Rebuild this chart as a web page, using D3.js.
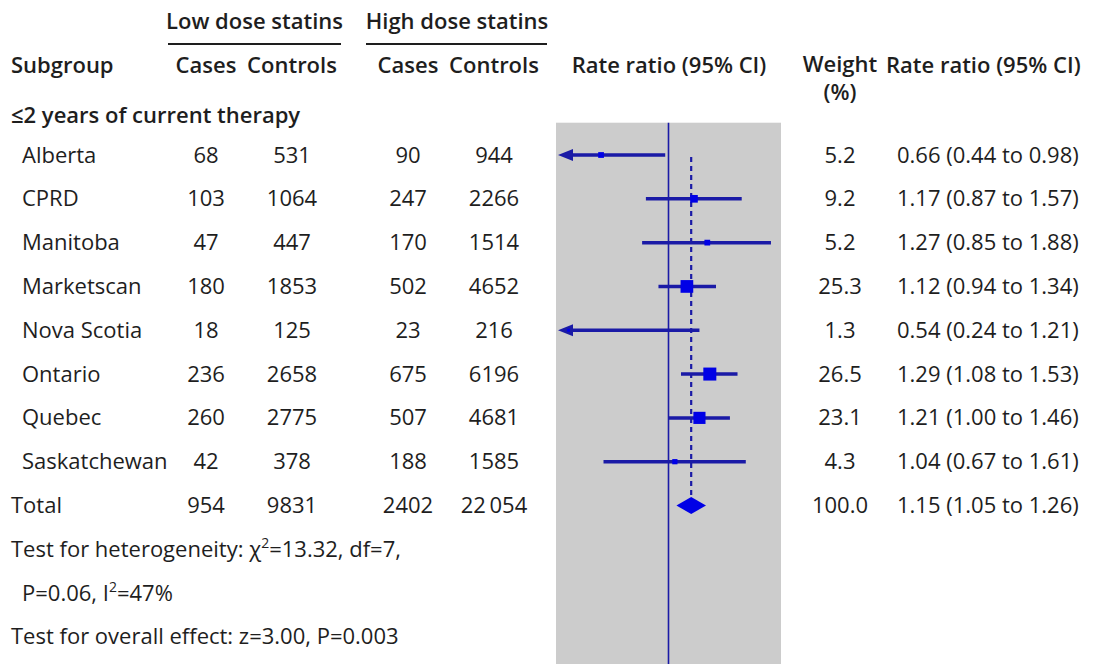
<!DOCTYPE html>
<html>
<head>
<meta charset="utf-8">
<script src="https://cdn.jsdelivr.net/npm/d3@7"></script>
<style>
  html, body { margin: 0; padding: 0; background: #fff; }
  svg { display: block; font-family: "Open Sans", "Noto Sans", sans-serif; }
  .hdr { font-weight: 600; }
</style>
</head>
<body>
<svg id="chart" width="1097" height="664"></svg>
<script>
// ---- data ----
const subgroups    = ["Alberta", "CPRD", "Manitoba", "Marketscan", "Nova Scotia", "Ontario", "Quebec", "Saskatchewan"];
const lowCases     = [68, 103, 47, 180, 18, 236, 260, 42];
const lowControls  = [531, 1064, 447, 1853, 125, 2658, 2775, 378];
const highCases    = [90, 247, 170, 502, 23, 675, 507, 188];
const highControls = [944, 2266, 1514, 4652, 216, 6196, 4681, 1585];
const weights      = [5.2, 9.2, 5.2, 25.3, 1.3, 26.5, 23.1, 4.3];
const rateRatio    = [0.66, 1.17, 1.27, 1.12, 0.54, 1.29, 1.21, 1.04];
const ciLower      = [0.44, 0.87, 0.85, 0.94, 0.24, 1.08, 1.00, 0.67];
const ciUpper      = [0.98, 1.57, 1.88, 1.34, 1.21, 1.53, 1.46, 1.61];
const totalLabel   = "Total";
const totalCounts  = [954, 9831, 2402, 22054];
const totalWeight  = 100.0;
const totalRR      = [1.15, 1.05, 1.26];
const groupTitle   = "≤2 years of current therapy";
const axisDomain   = [0.5, 2];

// ---- layout ----
const svg = d3.select("#chart");
const ink = "#1e1e1e";
const lineBlue = "#1a1aa6";
const markBlue = "#0000e6";
const fs = 22;

const x = d3.scaleLog().domain(axisDomain).range([556, 781]);
const rows = subgroups.concat([totalLabel]);
const y = d3.scalePoint().domain(rows).range([155, 505.5]);
const step = y.step();
const size = d3.scaleSqrt().domain([0, 26.5]).range([0, 13]);

const colX = { label: 22, lc: 206, lco: 292, hc: 408, hco: 494, w: 840, rr: 897 };

const fmtN = n => n >= 10000 ? d3.format(",")(n).replace(/,/g, "\u2009") : String(n);
const f1 = d3.format(".1f"), f2 = d3.format(".2f");

function txt(xp, yp, s, anchor, cls) {
  return svg.append("text").attr("x", xp).attr("y", yp)
    .attr("text-anchor", anchor || "start")
    .attr("font-size", fs).attr("fill", ink)
    .attr("class", cls || null).text(s);
}

// plot background
const plotTop = 122.7;
svg.append("rect").attr("x", x(axisDomain[0])).attr("y", plotTop)
  .attr("width", x(axisDomain[1]) - x(axisDomain[0])).attr("height", 664 - plotTop)
  .attr("fill", "#cccccc");

// headers
txt(254.5, 29, "Low dose statins", "middle", "hdr");
txt(457, 29, "High dose statins", "middle", "hdr");
svg.append("line").attr("x1", 168).attr("x2", 341).attr("y1", 44).attr("y2", 44).attr("stroke", ink).attr("stroke-width", 2);
svg.append("line").attr("x1", 366).attr("x2", 547).attr("y1", 44).attr("y2", 44).attr("stroke", ink).attr("stroke-width", 2);
txt(11, 73, "Subgroup", "start", "hdr");
txt(colX.lc, 73, "Cases", "middle", "hdr");
txt(colX.lco, 73, "Controls", "middle", "hdr");
txt(colX.hc, 73, "Cases", "middle", "hdr");
txt(colX.hco, 73, "Controls", "middle", "hdr");
txt(669, 73, "Rate ratio (95% CI)", "middle", "hdr");
txt(colX.w, 72, "Weight", "middle", "hdr");
txt(colX.w, 100, "(%)", "middle", "hdr");
txt(886, 73, "Rate ratio (95% CI)", "start", "hdr");
txt(11, 123, groupTitle, "start", "hdr");

// reference lines
svg.append("line").attr("x1", x(1)).attr("x2", x(1)).attr("y1", plotTop).attr("y2", 664)
  .attr("stroke", lineBlue).attr("stroke-width", 1.6);
svg.append("line").attr("x1", x(totalRR[0])).attr("x2", x(totalRR[0]))
  .attr("y1", y(subgroups[0]) + 2).attr("y2", y(totalLabel) - 8.5)
  .attr("stroke", lineBlue).attr("stroke-width", 2.2).attr("stroke-dasharray", "5,4");

// study rows
subgroups.forEach((s, i) => {
  const yy = y(s);
  const tb = yy + 7.5;
  txt(colX.label, tb, s);
  txt(colX.lc, tb, fmtN(lowCases[i]), "middle");
  txt(colX.lco, tb, fmtN(lowControls[i]), "middle");
  txt(colX.hc, tb, fmtN(highCases[i]), "middle");
  txt(colX.hco, tb, fmtN(highControls[i]), "middle");
  txt(colX.w, tb, f1(weights[i]), "middle");
  txt(colX.rr, tb, `${f2(rateRatio[i])} (${f2(ciLower[i])} to ${f2(ciUpper[i])})`);

  const clipped = ciLower[i] < axisDomain[0];
  const tip = x(axisDomain[0]) + 2;
  const x1 = clipped ? tip + 6 : x(ciLower[i]);
  const x2 = Math.min(x(ciUpper[i]), x(axisDomain[1]));
  svg.append("line").attr("x1", x1).attr("x2", x2).attr("y1", yy).attr("y2", yy)
    .attr("stroke", lineBlue).attr("stroke-width", 3.5);
  if (clipped) {
    svg.append("path")
      .attr("d", `M${tip},${yy} L${tip + 15},${yy - 6} L${tip + 15},${yy + 6} Z`)
      .attr("fill", lineBlue);
  }
  const sz = Math.max(size(weights[i]), 3);
  svg.append("rect").attr("x", x(rateRatio[i]) - sz / 2).attr("y", yy - sz / 2)
    .attr("width", sz).attr("height", sz).attr("fill", markBlue);
});

// total row
{
  const yy = y(totalLabel), tb = yy + 7.5;
  txt(11, tb, totalLabel);
  txt(colX.lc, tb, fmtN(totalCounts[0]), "middle");
  txt(colX.lco, tb, fmtN(totalCounts[1]), "middle");
  txt(colX.hc, tb, fmtN(totalCounts[2]), "middle");
  txt(colX.hco, tb, fmtN(totalCounts[3]), "middle");
  txt(colX.w, tb, f1(totalWeight), "middle");
  txt(colX.rr, tb, `${f2(totalRR[0])} (${f2(totalRR[1])} to ${f2(totalRR[2])})`);
  const h = 8.5;
  svg.append("path")
    .attr("d", `M${x(totalRR[1])},${yy} L${x(totalRR[0])},${yy - h} L${x(totalRR[2])},${yy} L${x(totalRR[0])},${yy + h} Z`)
    .attr("fill", markBlue);
}

// footnotes
const yTot = y(totalLabel) + 7.5;
const t1 = txt(11, yTot + step, "Test for heterogeneity: χ");
t1.append("tspan").attr("baseline-shift", "super").attr("font-size", 14).text("2");
t1.append("tspan").text("=13.32, df=7,");
const t2 = txt(22, yTot + 2 * step, "P=0.06, I");
t2.append("tspan").attr("baseline-shift", "super").attr("font-size", 14).text("2");
t2.append("tspan").text("=47%");
txt(11, yTot + 3 * step, "Test for overall effect: z=3.00, P=0.003");
</script>
</body>
</html>
